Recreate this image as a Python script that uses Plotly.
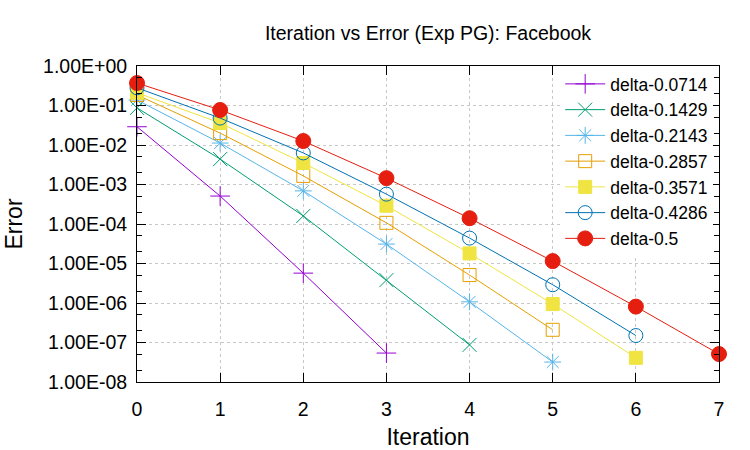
import plotly.graph_objects as go

iterations = [0, 1, 2, 3, 4, 5, 6, 7]
series_names = ["delta-0.0714", "delta-0.1429", "delta-0.2143", "delta-0.2857",
                "delta-0.3571", "delta-0.4286", "delta-0.5"]
err_0714 = [0.029, 5.1e-4, 5.7e-6, 5.4e-8]
err_1429 = [0.087, 4.4e-3, 1.6e-4, 3.8e-6, 8.7e-8]
err_2143 = [0.138, 0.0112, 6.9e-4, 3.1e-5, 1.07e-6, 3.2e-8]
err_2857 = [0.185, 0.020, 1.65e-3, 1.07e-4, 5.1e-6, 2.1e-7]
err_3571 = [0.21, 0.036, 3.5e-3, 2.9e-4, 1.8e-5, 9.4e-7, 4.1e-8]
err_4286 = [0.28, 0.048, 6.3e-3, 5.7e-4, 4.4e-5, 2.9e-6, 1.5e-7]
err_5000 = [0.37, 0.077, 0.0126, 1.45e-3, 1.4e-4, 1.15e-5, 8.1e-7, 5.1e-8]
series_values = [err_0714, err_1429, err_2143, err_2857, err_3571, err_4286, err_5000]

y_tick_vals = [1e0, 1e-1, 1e-2, 1e-3, 1e-4, 1e-5, 1e-6, 1e-7, 1e-8]
y_tick_text = ["1.00E+00", "1.00E-01", "1.00E-02", "1.00E-03", "1.00E-04",
               "1.00E-05", "1.00E-06", "1.00E-07", "1.00E-08"]
y_minor_vals = [m * 10.0 ** e for e in range(-8, 0) for m in (2, 5)]
x_tick_vals = [0, 1, 2, 3, 4, 5, 6, 7]
x_tick_text = ["0", "1", "2", "3", "4", "5", "6", "7"]

colors = ["#9400D3", "#009E73", "#56B4E9", "#E69F00", "#F0E442", "#0072B2", "#E51E10"]
symbols = ["cross-thin-open", "x-thin-open", "asterisk-open", "square-open",
           "square", "circle-open", "circle"]
sizes = [14, 14, 14, 13, 13, 14, 15]

fig = go.Figure()
for name, vals, c, s, sz in zip(series_names, series_values, colors, symbols, sizes):
    fig.add_trace(go.Scatter(
        x=iterations[:len(vals)], y=vals, name=name, mode="lines+markers",
        line=dict(color=c, width=1),
        marker=dict(symbol=s, size=sz, color=c, line=dict(color=c, width=1)),
        cliponaxis=False,
    ))

font = "Liberation Sans, Arial, sans-serif"
fig.update_layout(
    width=750, height=450,
    margin=dict(l=137, r=31, t=66, b=68, autoexpand=False),
    paper_bgcolor="white", plot_bgcolor="white",
    font=dict(family=font, size=19.5, color="black"),
    title=dict(text="Iteration vs Error (Exp PG): Facebook", x=0.5, xref="paper",
               xanchor="center", y=1 - 33 / 450, yanchor="middle",
               font=dict(size=19.5)),
    showlegend=True,
    legend=dict(x=0.99, xanchor="right", y=1.0, yanchor="top",
                bgcolor="white", borderwidth=0, font=dict(size=17.5),
                tracegroupgap=0, itemwidth=40),
)
fig.update_xaxes(
    range=[0, 7], tickmode="array", tickvals=x_tick_vals, ticktext=x_tick_text,
    showline=True, linecolor="black", linewidth=1, mirror="allticks",
    ticks="inside", ticklen=9, tickcolor="black",
    showgrid=True, gridcolor="#c8c8c8", griddash="dot", gridwidth=1,
    zeroline=False, ticklabelstandoff=10, automargin=False,
    title=dict(text="Iteration", standoff=14),
)
fig.update_yaxes(
    type="log", range=[-8, 0], tickmode="array", tickvals=y_tick_vals, ticktext=y_tick_text,
    showline=True, linecolor="black", linewidth=1, mirror="allticks",
    ticks="inside", ticklen=9, tickcolor="black",
    showgrid=True, gridcolor="#c8c8c8", griddash="dot", gridwidth=1,
    zeroline=False, ticklabelstandoff=5, automargin=False,
    minor=dict(tickmode="array", tickvals=y_minor_vals, ticks="inside", ticklen=5,
               tickcolor="black", showgrid=False),
    title=dict(text="Error", standoff=14),
)
fig.write_html("out.html")
